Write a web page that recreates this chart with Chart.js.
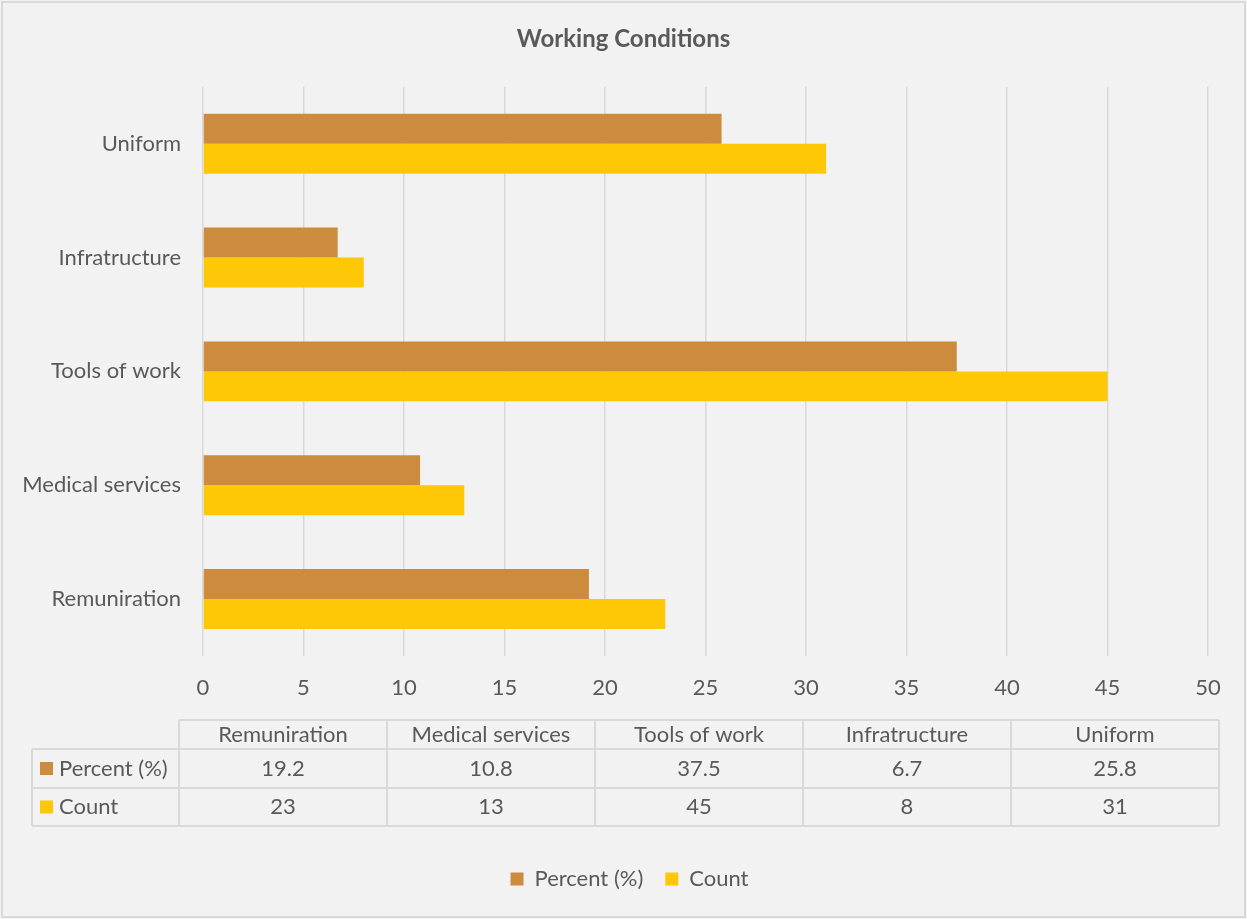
<!DOCTYPE html>
<html>
<head>
<meta charset="utf-8">
<title>Working Conditions</title>
<script src="https://cdn.jsdelivr.net/npm/chart.js"></script>
<style>
  html, body { margin: 0; padding: 0; background: #ffffff; }
  #wrap { width: 1247px; height: 919px; }
</style>
</head>
<body>
<div id="wrap"><canvas id="chart" width="1247" height="919"></canvas></div>
<script>
const CATEGORIES = ["Remuniration", "Medical services", "Tools of work", "Infratructure", "Uniform"];
const PERCENT = [19.2, 10.8, 37.5, 6.7, 25.8];
const COUNT = [23, 13, 45, 8, 31];
const X_TICKS = [0, 5, 10, 15, 20, 25, 30, 35, 40, 45, 50];

const TEXT = "#595959";
const LINE = "#d9d9d9";
const FONT = "Lato, 'Noto Sans', sans-serif";
const SIZE = 22;

// background + outer frame
const frame = {
  id: "frame",
  beforeDraw(chart) {
    const { ctx, width, height } = chart;
    ctx.save();
    ctx.fillStyle = "#f2f2f2";
    ctx.fillRect(0, 0, width, height);
    ctx.strokeStyle = LINE;
    ctx.lineWidth = 2;
    ctx.strokeRect(2, 2, width - 4, height - 4);
    ctx.restore();
  }
};

// title and legend are centred on the whole canvas, not on the plot column
const centerBlocks = {
  id: "centerBlocks",
  afterLayout(chart) {
    if (chart.titleBlock) { chart.titleBlock.left = 0; chart.titleBlock.right = chart.width; }
    if (chart.legend) { chart.legend.left = 12; chart.legend.right = chart.width; }
  }
};

// data table under the value axis
const dataTable = {
  id: "dataTable",
  afterDraw(chart) {
    const { ctx } = chart;
    const labels = chart.data.labels;
    const sets = chart.data.datasets;
    const left = 179, right = 1219, labelLeft = 32;
    const rows = [720, 749, 788, 826];
    const colW = (right - left) / labels.length;

    ctx.save();
    ctx.strokeStyle = LINE;
    ctx.lineWidth = 2;
    ctx.beginPath();
    // horizontal rules
    ctx.moveTo(left, rows[0]); ctx.lineTo(right, rows[0]);
    for (let r = 1; r < rows.length; r++) {
      ctx.moveTo(labelLeft, rows[r]); ctx.lineTo(right, rows[r]);
    }
    // vertical rules
    for (let c = 0; c <= labels.length; c++) {
      const x = left + c * colW;
      ctx.moveTo(x, rows[0]); ctx.lineTo(x, rows[rows.length - 1]);
    }
    ctx.moveTo(labelLeft, rows[1]); ctx.lineTo(labelLeft, rows[rows.length - 1]);
    ctx.stroke();

    ctx.fillStyle = TEXT;
    ctx.font = SIZE + "px " + FONT;
    ctx.textAlign = "center";
    ctx.textBaseline = "middle";
    labels.forEach((l, i) => {
      ctx.fillText(l, left + colW * (i + 0.5), (rows[0] + rows[1]) / 2);
    });
    sets.forEach((ds, r) => {
      const cy = (rows[r + 1] + rows[r + 2]) / 2;
      ds.data.forEach((v, i) => {
        ctx.fillText(String(v), left + colW * (i + 0.5), cy);
      });
      ctx.fillStyle = ds.backgroundColor;
      ctx.fillRect(40, cy - 6.5, 13, 13);
      ctx.fillStyle = TEXT;
      ctx.textAlign = "left";
      ctx.fillText(ds.label, 59, cy);
      ctx.textAlign = "center";
    });
    ctx.restore();
  }
};

new Chart(document.getElementById("chart"), {
  type: "bar",
  data: {
    labels: CATEGORIES,
    datasets: [
      { label: "Percent (%)", data: PERCENT, backgroundColor: "#cd8b3e" },
      { label: "Count", data: COUNT, backgroundColor: "#ffc806" }
    ]
  },
  options: {
    indexAxis: "y",
    responsive: false,
    animation: false,
    events: [],
    layout: { padding: { left: 0, right: 39, top: 0, bottom: 19 } },
    datasets: { bar: { categoryPercentage: 60 / 114, barPercentage: 1 } },
    scales: {
      x: {
        min: 0, max: 50,
        afterBuildTicks(axis) { axis.ticks = X_TICKS.map(v => ({ value: v })); },
        afterFit(axis) { axis.height = 190; },
        border: { display: false },
        grid: { color: LINE, lineWidth: 1.5, drawTicks: false },
        ticks: { color: TEXT, padding: 19, font: { family: FONT, size: SIZE } }
      },
      y: {
        reverse: true,
        afterFit(axis) { axis.width = 203; },
        border: { display: false },
        grid: { display: false },
        ticks: { color: TEXT, padding: 14, font: { family: FONT, size: SIZE } }
      }
    },
    plugins: {
      title: {
        display: true,
        text: "Working Conditions",
        color: TEXT,
        font: { family: FONT, size: 24, weight: "bold" },
        padding: { top: 25, bottom: 33 }
      },
      legend: {
        position: "bottom",
        labels: { color: TEXT, boxWidth: 13, boxHeight: 13, padding: 22, font: { family: FONT, size: SIZE } }
      },
      tooltip: { enabled: false }
    }
  },
  plugins: [frame, centerBlocks, dataTable]
});
</script>
</body>
</html>
